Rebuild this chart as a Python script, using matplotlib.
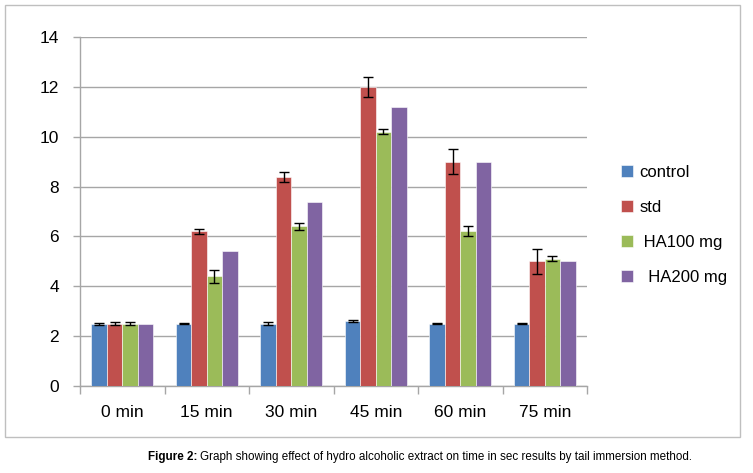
import numpy as np
import matplotlib.pyplot as plt
from matplotlib.patches import Rectangle

# data
times = ['0 min', '15 min', '30 min', '45 min', '60 min', '75 min']
groups = ['control', 'std', ' HA100 mg', '  HA200 mg']
control = [2.5, 2.5, 2.5, 2.6, 2.5, 2.5]
std = [2.5, 6.2, 8.4, 12.0, 9.0, 5.0]
ha100 = [2.5, 4.4, 6.4, 10.2, 6.2, 5.1]
ha200 = [2.5, 5.4, 7.4, 11.2, 9.0, 5.0]
control_err = [0.04, 0.03, 0.06, 0.05, 0.03, 0.03]
std_err = [0.06, 0.1, 0.2, 0.4, 0.5, 0.5]
ha100_err = [0.07, 0.25, 0.15, 0.1, 0.2, 0.1]
ha200_err = [0, 0, 0, 0, 0, 0]

colors = ['#4F81BD', '#C0504D', '#9BBB59', '#8064A2']
series = [control, std, ha100, ha200]
errors = [control_err, std_err, ha100_err, ha200_err]

plt.rcParams['font.family'] = ['Liberation Sans', 'DejaVu Sans']

fig = plt.figure(figsize=(7.53, 4.73), dpi=100)
W, H = 753, 473

# outer frame around the chart
fig.patches.append(Rectangle((5 / W, 1 - 437 / H), 735 / W, 432 / H,
                             transform=fig.transFigure, fill=False,
                             edgecolor='#BFBFBF', linewidth=1))

ax = fig.add_axes([80 / W, 1 - 386 / H, 507 / W, 349 / H])

x = np.arange(len(times))
bw = 0.183
for i, (vals, err, c, lab) in enumerate(zip(series, errors, colors, groups)):
    pos = x + (i - 1.5) * bw
    ax.bar(pos, vals, width=bw, color=c, edgecolor='white', linewidth=0.4,
           label=lab, zorder=3)
    e = np.array(err)
    mask = e > 0
    ax.errorbar(pos[mask], np.array(vals)[mask], yerr=e[mask], fmt='none',
                ecolor='black', elinewidth=1, capsize=3.5, capthick=1, zorder=4)

ax.set_xlim(-0.5, len(times) - 0.5)
ax.set_ylim(0, 14)
ax.set_yticks(np.arange(0, 15, 2))
ax.yaxis.grid(True, color='#A6A6A6', linewidth=1, zorder=0)
ax.set_axisbelow(True)

ax.set_xticks(x)
ax.set_xticklabels(times, fontsize=12.5)
ax.set_xticks(np.arange(-0.5, len(times)), minor=True)
ax.tick_params(axis='x', which='major', length=0, pad=14)
ax.tick_params(axis='x', which='minor', length=6, color='#A6A6A6', width=1)
ax.tick_params(axis='y', length=5, color='#A6A6A6', width=1, labelsize=12.5, pad=10)

for s in ['top', 'right']:
    ax.spines[s].set_visible(False)
for s in ['left', 'bottom']:
    ax.spines[s].set_color('#A6A6A6')
    ax.spines[s].set_linewidth(1)

ax.legend(loc='upper left', bbox_to_anchor=(606 / W, 1 - 150 / H),
          bbox_transform=fig.transFigure, frameon=False, fontsize=12,
          handlelength=0.7, handleheight=0.7, labelspacing=1.2,
          handletextpad=0.4)

# caption: bold prefix then regular text, squeezed to the reference width
cap_y = 1 - 457 / H
cap_a = 'Figure 2:'
cap_b = 'Graph showing effect of hydro alcoholic extract on time in sec results by tail immersion method.'
fs = 9
r = fig.canvas.get_renderer()
t1 = fig.text(148 / W, cap_y, cap_a, fontsize=fs, fontweight='bold', va='center')
t2 = fig.text(0, cap_y, cap_b, fontsize=fs, va='center')
w = t1.get_window_extent(renderer=r).width + 3 + t2.get_window_extent(renderer=r).width
fs = fs * (690 - 148) / w
t1.set_fontsize(fs)
t2.set_fontsize(fs)
bb = t1.get_window_extent(renderer=r)
t2.set_x((bb.x1 + 3) / W)

fig.savefig('out.png', dpi=100)
